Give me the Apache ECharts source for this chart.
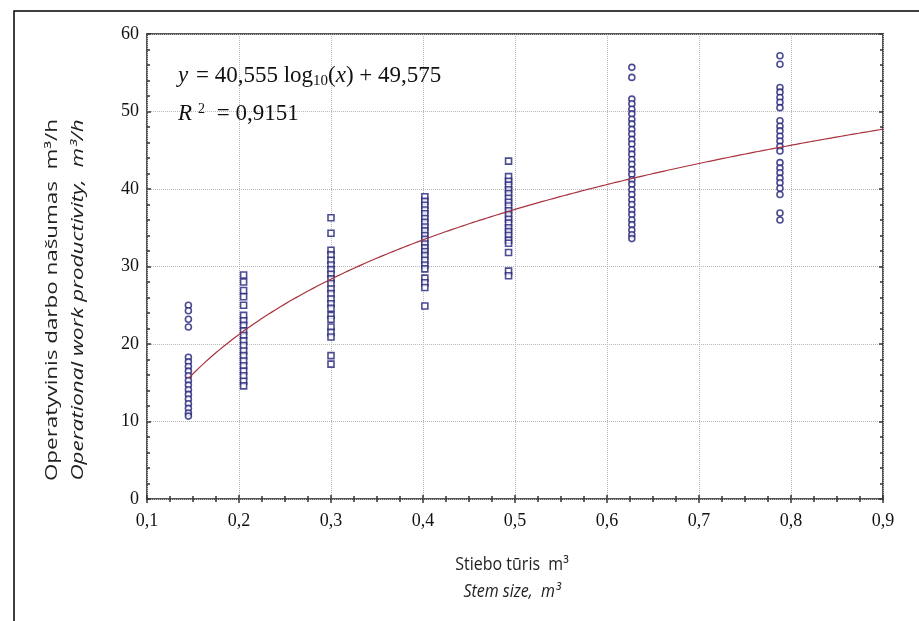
<!DOCTYPE html>
<html>
<head>
<meta charset="utf-8">
<script src="https://cdn.jsdelivr.net/npm/echarts@6/dist/echarts.min.js"></script>
<style>
html,body{margin:0;padding:0;background:#fff;}
#chart{width:919px;height:621px;}
</style>
</head>
<body>
<div id="chart"></div>
<script>
// ---- data ----
const stemSizes = [0.145, 0.205, 0.300, 0.402, 0.493, 0.627, 0.788];
const prodCol1 = [25.0, 24.3, 23.2, 22.2, 18.3, 17.7, 17.1, 16.5, 15.9, 15.3, 14.7, 14.1, 13.5, 12.9, 12.3, 11.7, 11.1, 10.7];
const prodCol2 = [28.9, 28.0, 26.9, 26.1, 25.0, 23.7, 23.0, 22.4, 21.7, 21.1, 20.4, 19.8, 19.1, 18.5, 17.8, 17.2, 16.5, 15.9, 15.2, 14.6];
const prodCol3 = [36.3, 34.3, 32.1, 31.5, 30.8, 30.2, 29.6, 29.0, 28.4, 27.8, 27.1, 26.5, 25.8, 25.2, 24.6, 23.7, 23.2, 22.2, 21.5, 20.9, 18.5, 17.4];
const prodCol4 = [39.0, 38.4, 37.9, 37.3, 36.8, 36.2, 35.7, 35.1, 34.6, 34.0, 33.5, 32.9, 32.4, 31.9, 31.4, 30.8, 30.2, 29.7, 28.5, 27.9, 27.3, 24.9];
const prodCol5 = [43.6, 41.6, 41.0, 40.5, 39.9, 39.4, 38.8, 38.3, 37.8, 37.2, 36.7, 36.1, 35.6, 35.0, 34.5, 34.0, 33.4, 33.0, 31.8, 29.4, 28.8];
const prodCol6 = [55.7, 54.4, 51.6, 51.0, 50.3, 49.7, 49.0, 48.4, 47.7, 47.1, 46.4, 45.8, 45.1, 44.5, 43.8, 43.2, 42.5, 41.9, 41.2, 40.6, 39.9, 39.3, 38.6, 38.0, 37.3, 36.7, 36.0, 35.4, 34.7, 34.1, 33.6];
const prodCol7 = [57.2, 56.1, 53.1, 52.5, 51.8, 51.2, 50.5, 48.8, 48.1, 47.5, 46.8, 46.2, 45.5, 44.9, 43.4, 42.7, 42.1, 41.4, 40.8, 40.1, 39.3, 36.9, 36.0];
const columnValues = [prodCol1, prodCol2, prodCol3, prodCol4, prodCol5, prodCol6, prodCol7];
const columnSymbols = ['circle', 'rect', 'rect', 'rect', 'rect', 'circle', 'circle'];

// regression shown on the chart: y = 40,555 log10(x) + 49,575
const fitSlope = 40.555;
const fitIntercept = 49.575;
const fitFrom = 0.145;
const fitTo = 0.9;

const xTicks = [0.1, 0.2, 0.3, 0.4, 0.5, 0.6, 0.7, 0.8, 0.9];
const yTicks = [0, 10, 20, 30, 40, 50, 60];

// ---- build ----
const fitData = [];
for (let i = 0; i <= 200; i++) {
  const x = fitFrom + (fitTo - fitFrom) * i / 200;
  fitData.push([x, fitSlope * Math.log10(x) + fitIntercept]);
}

const markColor = '#1f1f78';
const scatterSeries = stemSizes.map((sx, k) => ({
  type: 'scatter',
  symbol: columnSymbols[k],
  symbolSize: 6,
  data: columnValues[k].map(v => [sx, v]),
  itemStyle: { color: '#ffffff', borderColor: markColor, borderWidth: 1.6 },
  z: 3,
  silent: true
}));

const tickStyle = { show: true, inside: true, length: 4, lineStyle: { color: '#333', width: 1.5 } };
const minorStyle = { show: true, length: 3, lineStyle: { color: '#333', width: 1.5 } };
const serifName = '"Liberation Serif", "Times New Roman", serif';
const sans = '"Open Sans", "Noto Sans", sans-serif';

// equation pieces laid out by measuring text widths (baseline-based)
const measureCtx = document.createElement('canvas').getContext('2d');
function layoutPieces(pieces, x0, baseline) {
  const out = [];
  let x = x0;
  pieces.forEach(p => {
    const font = (p.italic ? 'italic ' : '') + p.size + 'px ' + serifName;
    measureCtx.font = font;
    x += (p.gapBefore || 0);
    out.push({ type: 'text', x: x, y: baseline + (p.shift || 0) - 0.78 * p.size, z: 10, silent: true,
      style: { text: p.text, font: font, fill: '#111', align: 'left', verticalAlign: 'top' } });
    x += measureCtx.measureText(p.text).width;
  });
  return out;
}
const eqLine1 = layoutPieces([
  { text: 'y', italic: true, size: 23 },
  { text: ' = 40,555 log', size: 23, gapBefore: 2 },
  { text: '10', size: 15, shift: 3 },
  { text: '(', size: 23 },
  { text: 'x', italic: true, size: 23 },
  { text: ') + 49,575', size: 23 }
], 178, 82);
const eqLine2 = layoutPieces([
  { text: 'R', italic: true, size: 23 },
  { text: '2', size: 14, shift: -7, gapBefore: 6 },
  { text: ' = 0,9151', size: 23, gapBefore: 6 }
], 178, 120);

const chart = echarts.init(document.getElementById('chart'), null, { renderer: 'canvas' });
chart.setOption({
  animation: false,
  backgroundColor: '#ffffff',
  grid: { left: 147, right: 36, top: 34, bottom: 122, show: true, borderColor: '#555', borderWidth: 2, backgroundColor: 'transparent' },
  xAxis: [{
    type: 'value', min: xTicks[0], max: xTicks[xTicks.length - 1], interval: 0.1,
    axisLine: { show: false },
    axisTick: tickStyle,
    minorTick: Object.assign({ splitNumber: 4 }, minorStyle),
    splitLine: { show: true, lineStyle: { color: '#b8b8b8', type: 'dotted', width: 1 } },
    axisLabel: { color: '#111', fontFamily: serifName, fontSize: 18, margin: 13,
      formatter: v => v.toFixed(1).replace('.', ',') }
  }, {
    type: 'value', position: 'top', min: xTicks[0], max: xTicks[xTicks.length - 1], interval: 0.1,
    axisLine: { show: false }, axisTick: tickStyle,
    minorTick: Object.assign({ splitNumber: 4 }, minorStyle),
    splitLine: { show: false }, axisLabel: { show: false }
  }],
  yAxis: [{
    type: 'value', min: yTicks[0], max: yTicks[yTicks.length - 1], interval: 10,
    axisLine: { show: false },
    axisTick: tickStyle,
    minorTick: Object.assign({ splitNumber: 5 }, minorStyle),
    splitLine: { show: true, lineStyle: { color: '#b8b8b8', type: 'dotted', width: 1 } },
    axisLabel: { color: '#111', fontFamily: serifName, fontSize: 18, margin: 8 }
  }, {
    type: 'value', position: 'right', min: yTicks[0], max: yTicks[yTicks.length - 1], interval: 10,
    axisLine: { show: false }, axisTick: tickStyle,
    minorTick: Object.assign({ splitNumber: 5 }, minorStyle),
    splitLine: { show: false }, axisLabel: { show: false }
  }],
  series: [{
    type: 'line', data: fitData, showSymbol: false, symbol: 'none', smooth: false,
    lineStyle: { color: '#a8323e', width: 1.2 }, z: 4, silent: true
  }].concat(scatterSeries),
  graphic: [
    { type: 'rect', shape: { x: 14, y: 11, width: 920, height: 640 }, style: { fill: 'none', stroke: '#000', lineWidth: 1.5 }, silent: true, z: 0 }
  ].concat(eqLine1, eqLine2, [
    { type: 'text', x: 52, y: 300, rotation: Math.PI / 2, scaleX: 1.4, z: 10, style: {
      text: 'Operatyvinis darbo našumas  m³/h', font: '16px ' + sans, fill: '#222', align: 'center', verticalAlign: 'middle' } },
    { type: 'text', x: 78, y: 300, rotation: Math.PI / 2, scaleX: 1.4, z: 10, style: {
      text: 'Operational work productivity,  m³/h', font: 'italic 16px ' + sans, fill: '#222', align: 'center', verticalAlign: 'middle' } },
    { type: 'text', x: 512, y: 565, scaleY: 1.1, z: 10, style: {
      text: 'Stiebo tūris  m³', font: '16px ' + sans, fill: '#222', align: 'center', verticalAlign: 'middle' } },
    { type: 'text', x: 512, y: 592, scaleY: 1.1, z: 10, style: {
      text: 'Stem size,  m³', font: 'italic 16px ' + sans, fill: '#222', align: 'center', verticalAlign: 'middle' } }
  ])
});
</script>
</body>
</html>
